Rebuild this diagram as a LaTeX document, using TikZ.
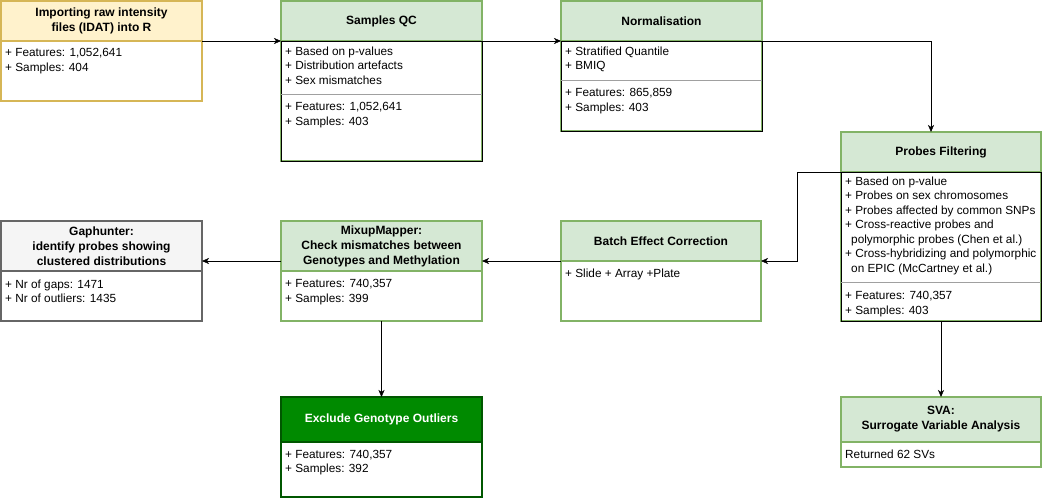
\documentclass[tikz,border=0pt]{standalone}
\usepackage{fontspec}
\setmainfont{Liberation Sans}
\usetikzlibrary{arrows.meta,positioning}
\definecolor{fillgreen}{HTML}{D5E8D4}
\definecolor{linegreen}{HTML}{82B366}
\definecolor{fillyellow}{HTML}{FFF2CC}
\definecolor{lineyellow}{HTML}{D6B656}
\definecolor{fillgray}{HTML}{F5F5F5}
\definecolor{linegray}{HTML}{666666}
\definecolor{filldark}{HTML}{008A00}
\definecolor{linedark}{HTML}{005700}
\definecolor{dividergray}{HTML}{A0A0A0}
\tikzset{
	boxhead/.style={draw, line width=1.5pt, minimum width=201pt, minimum height=40pt,
		anchor=north west, inner sep=0pt, outer sep=0pt, align=center,
		font=\fontsize{12}{15}\selectfont\bfseries},
	boxbody/.style={draw, line width=1.5pt, minimum width=201pt, anchor=north,
		inner sep=0pt, outer sep=0pt},
	listbody/.style={draw=black, line width=0.9pt, minimum width=201pt, anchor=north,
		inner sep=0pt, outer sep=0pt},
	items/.style={anchor=north west, align=left, inner sep=0pt},
	divider/.style={draw=dividergray, line width=0.8pt},
	greenhead/.style={boxhead, draw=linegreen, fill=fillgreen}
	}

\begin{document}
\begin{tikzpicture}[x=1pt, y=-1pt, font=\fontsize{11.8}{14.5}\selectfont,
	>={Stealth[length=7pt,width=6pt,inset=2pt]}]

	\useasboundingbox (0,0) rectangle (1042,498);

	% top row
	\node[boxhead, draw=lineyellow, fill=fillyellow] (import) at (1,1)
		{Importing raw intensity\\files (IDAT) into R};
	\node[boxbody, draw=lineyellow, minimum height=60pt] (importbody) at (import.south) {};
	\node[items] (importlist) at ([shift={(4,7.5)}]importbody.north west)
		{+ Features: 1,052,641\\+ Samples: 404};

	\node[greenhead] (qc) at (281,1) {Samples QC};
	\node[boxbody, draw=linegreen, minimum height=120pt] (qcframe) at (qc.south) {};
	\node[listbody, minimum height=120pt] (qcbody) at (qc.south) {};
	\draw[divider] (qcbody.west |- 0,94) -- (qcbody.east |- 0,94);
	\node[items] (qclist) at ([shift={(4,5.5)}]qcbody.north west)
		{+ Based on p-values\\+ Distribution artefacts\\+ Sex mismatches};
	\node[items] (qcstats) at (285,102.5)
		{+ Features: 1,052,641\\+ Samples: 403};

	\node[greenhead] (norm) at (561,1) {Normalisation};
	\node[boxbody, draw=linegreen, minimum height=90pt] (normframe) at (norm.south) {};
	\node[listbody, minimum height=90pt] (normbody) at (norm.south) {};
	\draw[divider] (normbody.west |- 0,80) -- (normbody.east |- 0,80);
	\node[items] (normlist) at ([shift={(4,5.5)}]normbody.north west)
		{+ Stratified Quantile\\+ BMIQ};
	\node[items] (normstats) at (565,88.5)
		{+ Features: 865,859\\+ Samples: 403};

	% right column
	\node[greenhead, minimum width=200pt] (filter) at (841,132) {Probes Filtering};
	\node[boxbody, draw=linegreen, minimum width=200pt, minimum height=149pt] (filterframe) at (filter.south) {};
	\node[listbody, minimum width=200pt, minimum height=149pt] (filterbody) at (filter.south) {};
	\draw[divider] (filterbody.west |- 0,282) -- (filterbody.east |- 0,282);
	\node[items] (filterlist) at ([shift={(4,4.5)}]filterbody.north west)
		{+ Based on p-value\\+ Probes on sex chromosomes\\+ Probes affected by common SNPs\\
		+ Cross-reactive probes and\\\hspace*{6pt}polymorphic probes (Chen et al.)\\
		+ Cross-hybridizing and polymorphic\\\hspace*{6pt}on EPIC (McCartney et al.)};
	\node[items] (filterstats) at (845,291.5)
		{+ Features: 740,357\\+ Samples: 403};

	\node[greenhead, minimum width=200pt, minimum height=45pt] (sva) at (841,397)
		{SVA:\\Surrogate Variable Analysis};
	\node[boxbody, draw=linegreen, minimum width=200pt, minimum height=25pt] (svabody) at (sva.south) {};
	\node[items] (svalist) at ([shift={(4,8)}]svabody.north west) {Returned 62 SVs};

	% middle row
	\node[greenhead, minimum width=200pt] (batch) at (561,221) {Batch Effect Correction};
	\node[boxbody, draw=linegreen, minimum width=200pt, minimum height=60pt] (batchbody) at (batch.south) {};
	\node[items] (batchlist) at ([shift={(4,8)}]batchbody.north west) {+ Slide + Array +Plate};

	\node[greenhead, minimum height=50pt] (mixup) at (281,221)
		{MixupMapper:\\Check mismatches between\\Genotypes and Methylation};
	\node[boxbody, draw=linegreen, minimum height=50pt] (mixupbody) at (mixup.south) {};
	\node[items] (mixuplist) at ([shift={(4,8.5)}]mixupbody.north west)
		{+ Features: 740,357\\+ Samples: 399};

	\node[boxhead, draw=linegray, fill=fillgray, minimum height=50pt] (gap) at (1,221)
		{Gaphunter:\\identify probes showing\\clustered distributions};
	\node[boxbody, draw=linegray, minimum height=50pt] (gapbody) at (gap.south) {};
	\node[items] (gaplist) at ([shift={(4,8.5)}]gapbody.north west)
		{+ Nr of gaps: 1471\\+ Nr of outliers: 1435};

	% bottom
	\node[boxhead, draw=linedark, fill=filldark, text=white, minimum height=45pt] (exclude) at (281,397)
		{Exclude Genotype Outliers};
	\node[boxbody, draw=linedark, minimum height=55pt] (excludebody) at (exclude.south) {};
	\node[items] (excludelist) at ([shift={(4,8)}]excludebody.north west)
		{+ Features: 740,357\\+ Samples: 392};

	% connectors
	\draw[->] (import.south east) -- (qc.south west);
	\draw[->] (qc.south east) -- (norm.south west);
	\draw[->] (norm.south east) -| ([xshift=-10pt]filter.north);
	\draw[->] (filter.south west) -- ++(-44,0) |- (batch.south east);
	\draw[->] (batch.south west) -- (mixup.east |- batch.south west);
	\draw[->] (mixup.west |- batch.south west) -- (gap.east |- batch.south west);
	\draw[->] (mixupbody.south) -- (exclude.north);
	\draw[->] (filterbody.south) -- (sva.north);

\end{tikzpicture}
\end{document}
